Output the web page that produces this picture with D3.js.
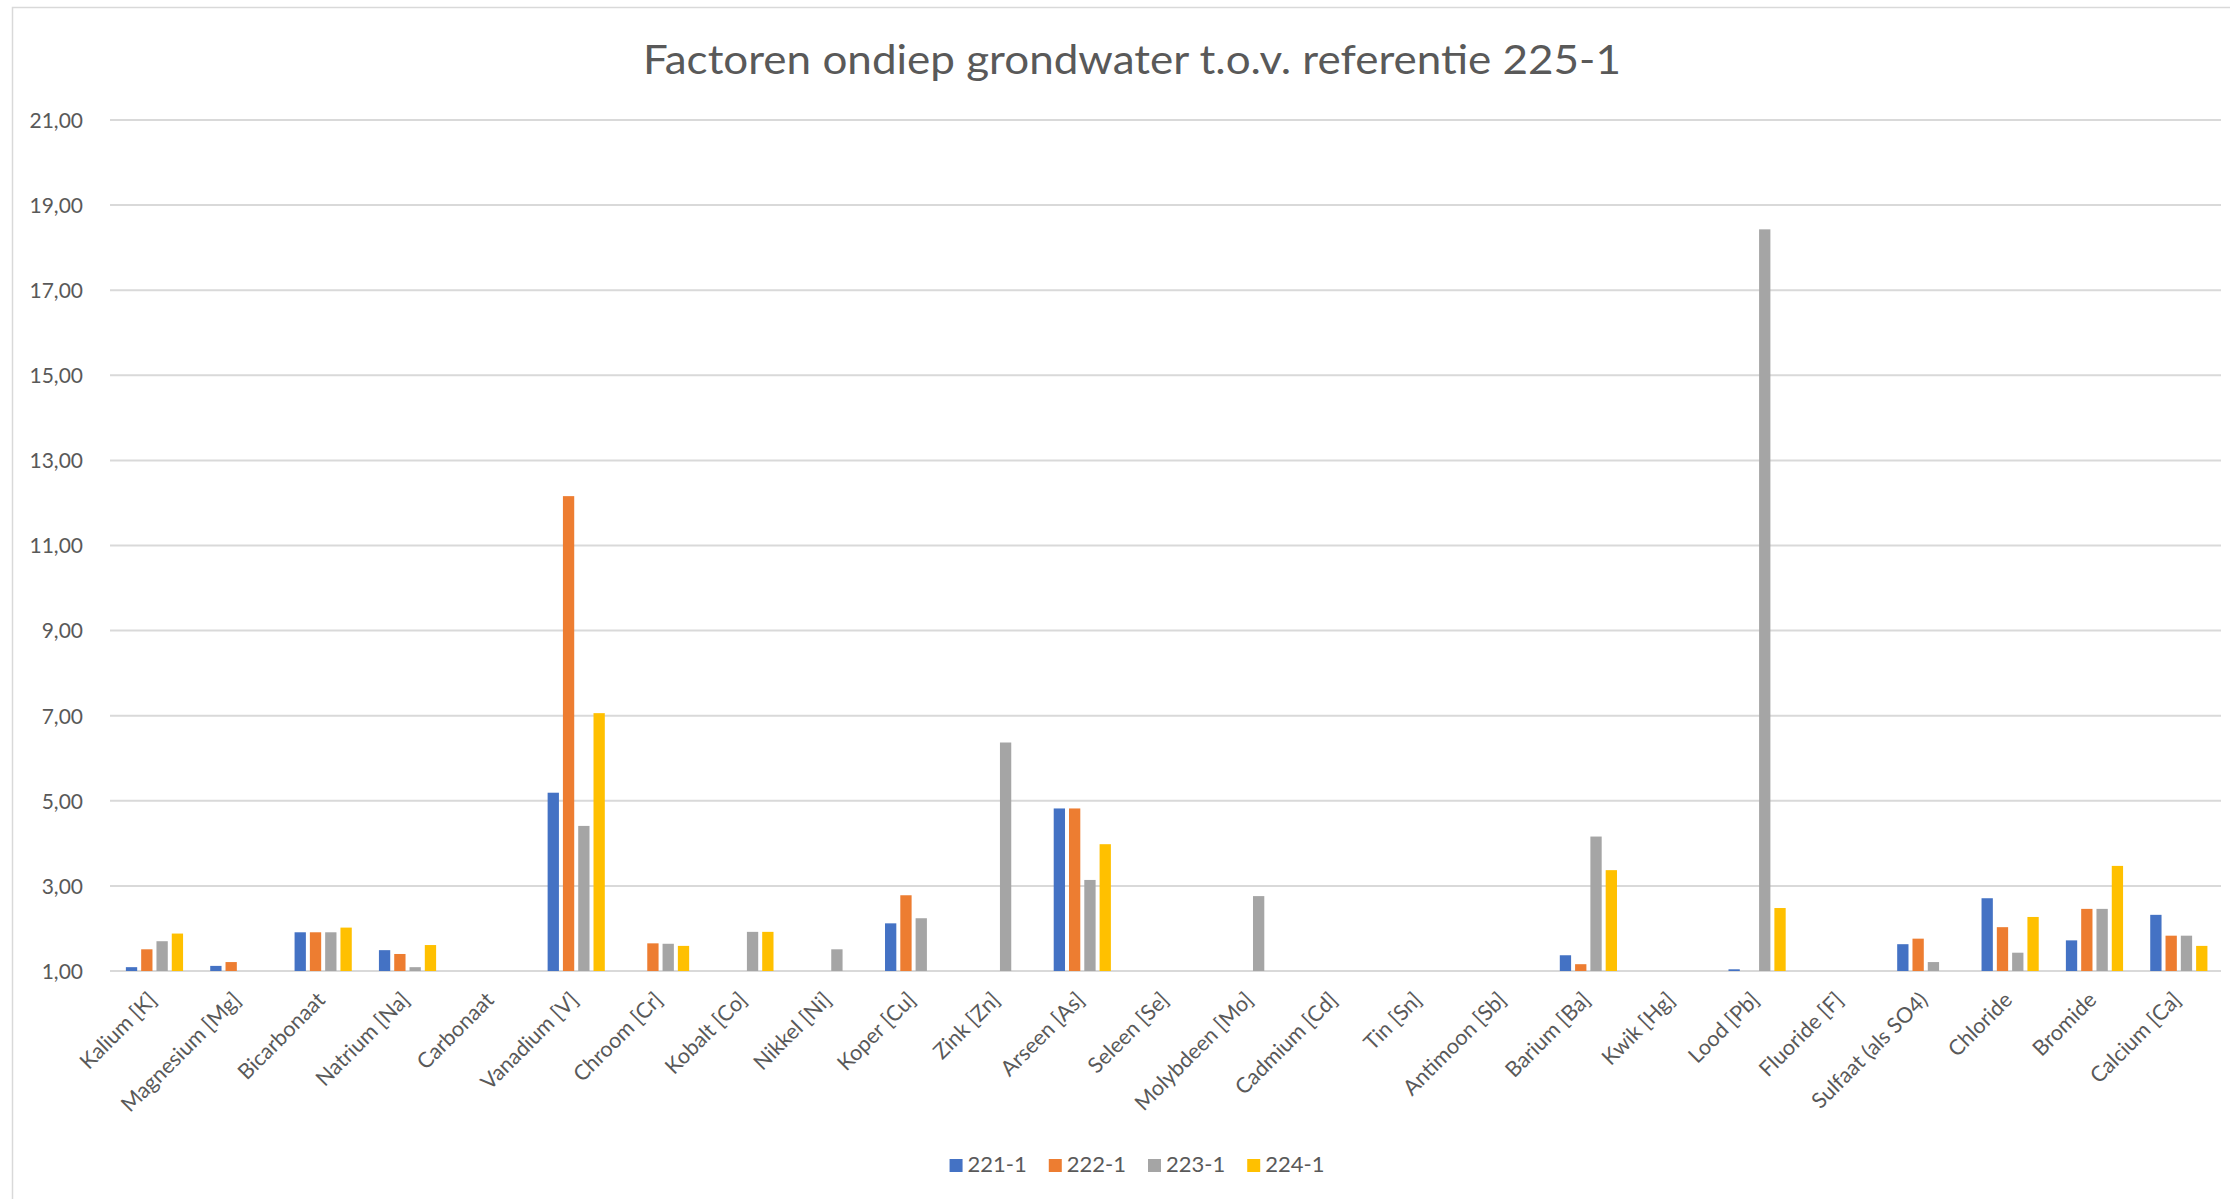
<!DOCTYPE html>
<html>
<head>
<meta charset="utf-8">
<script src="https://cdn.jsdelivr.net/npm/d3@7"></script>
<style>
  html, body { margin: 0; padding: 0; background: #fff; }
  svg { display: block; }
  text { font-family: Lato, "Open Sans", sans-serif; fill: #595959; }
</style>
</head>
<body>
<svg id="chart" width="2230" height="1199"></svg>
<script>
const title = "Factoren ondiep grondwater t.o.v. referentie 225-1";
const categories = ["Kalium [K]", "Magnesium [Mg]", "Bicarbonaat", "Natrium [Na]", "Carbonaat",
  "Vanadium [V]", "Chroom [Cr]", "Kobalt [Co]", "Nikkel [Ni]", "Koper [Cu]", "Zink [Zn]",
  "Arseen [As]", "Seleen [Se]", "Molybdeen [Mo]", "Cadmium [Cd]", "Tin [Sn]", "Antimoon [Sb]",
  "Barium [Ba]", "Kwik [Hg]", "Lood [Pb]", "Fluoride [F]", "Sulfaat (als SO4)", "Chloride",
  "Bromide", "Calcium [Ca]"];
const seriesNames = ["221-1", "222-1", "223-1", "224-1"];
const s221 = [1.09, 1.12, 1.91, 1.49, null, 5.19, null, null, null, 2.12, null, 4.82, null, null, null, null, null, 1.37, null, 1.04, null, 1.63, 2.71, 1.72, 2.32];
const s222 = [1.51, 1.21, 1.91, 1.40, null, 12.16, 1.65, null, null, 2.78, null, 4.82, null, null, null, null, null, 1.16, null, null, null, 1.76, 2.03, 2.46, 1.83];
const s223 = [1.70, null, 1.91, 1.09, null, 4.41, 1.64, 1.92, 1.51, 2.24, 6.37, 3.14, null, 2.76, null, null, null, 4.16, null, 18.43, null, 1.21, 1.43, 2.46, 1.83];
const s224 = [1.88, null, 2.02, 1.61, null, 7.06, 1.59, 1.92, null, null, null, 3.98, null, null, null, null, null, 3.37, null, 2.48, null, null, 2.27, 3.47, 1.59];
const yTicks = [1, 3, 5, 7, 9, 11, 13, 15, 17, 19, 21];
const colors = ["#4472C4", "#ED7D31", "#A5A5A5", "#FFC000"];

const seriesValues = [s221, s222, s223, s224];
const svg = d3.select("#chart");

// chart border
svg.append("rect")
  .attr("x", 12.5).attr("y", 7.5).attr("width", 2300).attr("height", 1300)
  .attr("fill", "none").attr("stroke", "#D9D9D9").attr("stroke-width", 1.5);

const plot = { left: 112.3, right: 2221, top: 120, bottom: 971 };

const x = d3.scaleBand().domain(categories)
  .range([plot.left, plot.right]).paddingInner(0.322).paddingOuter(0.161);
const xs = d3.scaleBand().domain(seriesNames)
  .range([0, x.bandwidth()]).paddingInner(0.261).paddingOuter(0);
const y = d3.scaleLinear().domain([1, 21]).range([plot.bottom, plot.top]);

// gridlines
svg.append("g").selectAll("line").data(yTicks).join("line")
  .attr("x1", 110).attr("x2", plot.right)
  .attr("y1", d => y(d)).attr("y2", d => y(d))
  .attr("stroke", "#D9D9D9").attr("stroke-width", 2);

// y axis labels
const fmt = d => d.toFixed(2).replace(".", ",");
const yAxis = d3.axisLeft(y).tickValues(yTicks).tickFormat(fmt).tickSize(0).tickPadding(0);
const yg = svg.append("g").attr("transform", "translate(83,0)").call(yAxis);
yg.select(".domain").remove();
yg.selectAll("text").attr("font-size", 21).attr("font-family", "Lato, sans-serif").attr("fill", "#595959").attr("dy", "0.35em");

// bars
const groups = svg.append("g").selectAll("g").data(seriesNames).join("g")
  .attr("fill", (d, i) => colors[i]);
groups.selectAll("rect")
  .data((s, si) => categories.map((c, ci) => ({ c, s, v: seriesValues[si][ci] })).filter(d => d.v != null))
  .join("rect")
  .attr("x", d => x(d.c) + xs(d.s))
  .attr("width", xs.bandwidth())
  .attr("y", d => y(d.v))
  .attr("height", d => y(1) - y(d.v));

// x labels
svg.append("g").selectAll("text").data(categories).join("text")
  .attr("transform", d => `translate(${x(d) + x.bandwidth() / 2 - 2},${996}) rotate(-45)`)
  .attr("text-anchor", "end").attr("dy", "0.35em")
  .attr("font-size", 21.5)
  .text(d => d);

// title
svg.append("text")
  .attr("x", 1132).attr("y", 74).attr("text-anchor", "middle")
  .attr("font-size", 40).attr("textLength", 978).attr("lengthAdjust", "spacingAndGlyphs")
  .text(title);

// legend
const legend = svg.append("g");
const items = legend.selectAll("g").data(seriesNames).join("g");
items.append("rect").attr("width", 13).attr("height", 13).attr("y", -13)
  .attr("fill", (d, i) => colors[i]);
items.append("text").attr("x", 18).attr("y", 0).attr("font-size", 22).text(d => d);
let cx = 0;
items.each(function () {
  const g = d3.select(this);
  g.attr("transform", `translate(${cx},0)`);
  cx += 18 + g.select("text").node().getComputedTextLength() + 22;
});
const totalW = cx - 22;
legend.attr("transform", `translate(${1137 - totalW / 2},1172)`);
</script>
</body>
</html>
